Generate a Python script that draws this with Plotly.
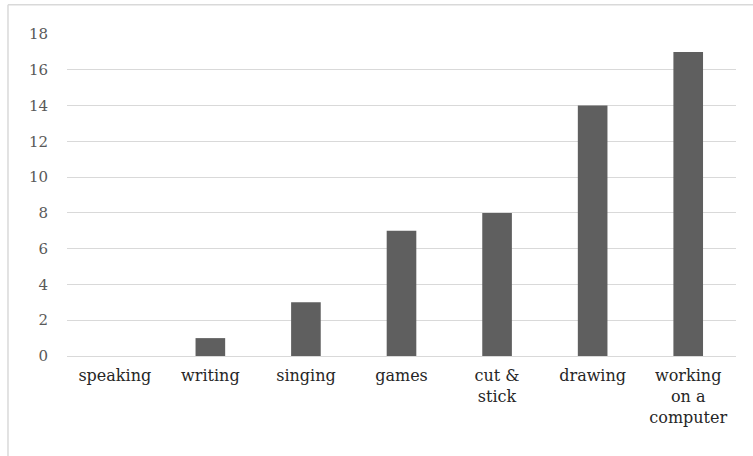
import plotly.graph_objects as go

categories = ["speaking", "writing", "singing", "games", "cut &<br>stick", "drawing", "working<br>on a<br>computer"]
values = [0, 1, 3, 7, 8, 14, 17]
y_ticks = [0, 2, 4, 6, 8, 10, 12, 14, 16, 18]

FONT = "DejaVu Serif"

fig = go.Figure(go.Bar(x=categories, y=values, marker=dict(color="#5f5f5f", line=dict(width=0)), width=0.31))

fig.update_layout(
    width=753, height=456,
    margin=dict(l=67, r=17, t=34, b=100),
    paper_bgcolor="white", plot_bgcolor="white",
    font=dict(family=FONT),
    showlegend=False,
    shapes=[
        dict(type="line", xref="paper", yref="paper", x0=-0.0882, x1=1.03, y0=1.0911, y1=1.0911,
             line=dict(color="#d9d9d9", width=1.5)),
        dict(type="line", xref="paper", yref="paper", x0=-0.0882, x1=-0.0882, y0=1.0911, y1=-0.35,
             line=dict(color="#d9d9d9", width=1.5)),
    ],
)
fig.update_yaxes(range=[0, 18], tickvals=y_ticks, showgrid=True, gridcolor="#d9d9d9", gridwidth=1.3,
                 zeroline=False, showline=False, ticks="", ticklen=0,
                 tickfont=dict(family=FONT, size=15, color="#595959"), ticklabelstandoff=18)
fig.update_xaxes(showline=True, linecolor="#d9d9d9", linewidth=1.3, ticks="",
                 tickfont=dict(family=FONT, size=16, color="#262626"), tickangle=0,
                 ticklabelstandoff=5)

fig.write_html("out.html")
